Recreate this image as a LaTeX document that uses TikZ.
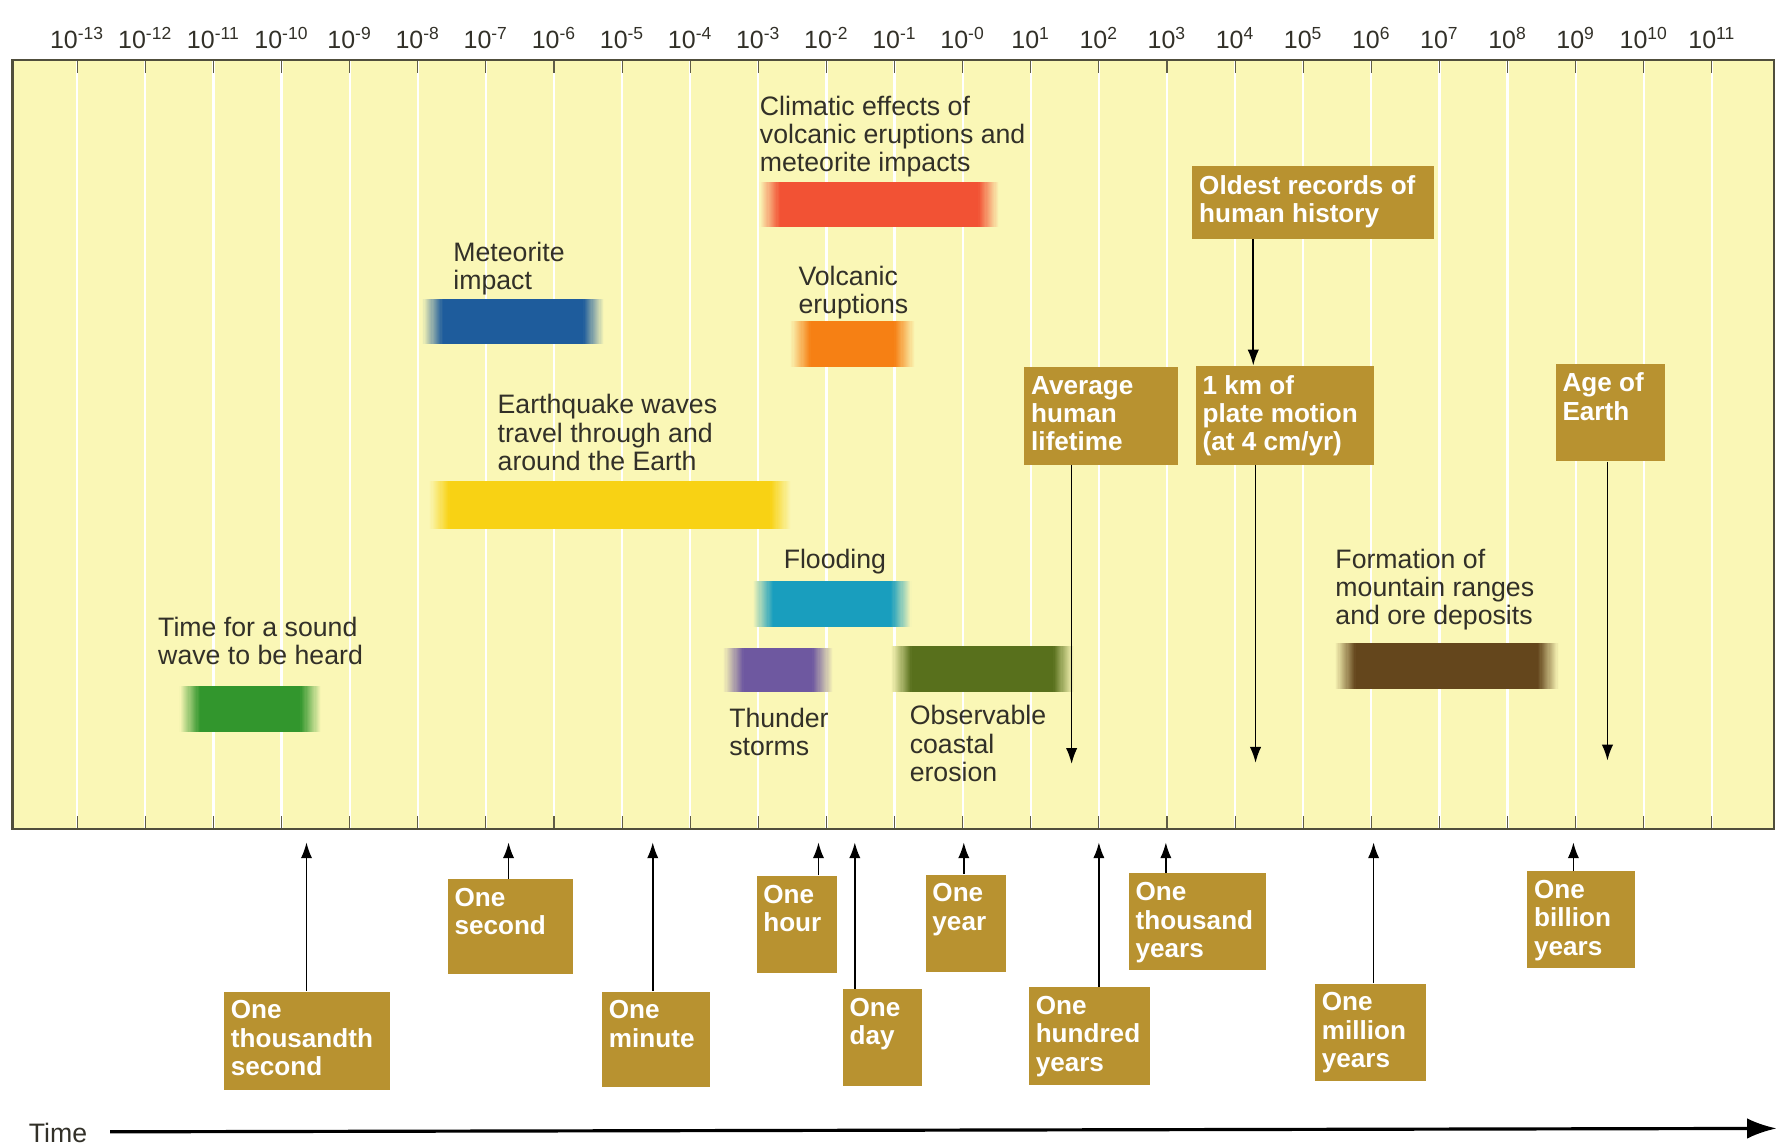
\documentclass[tikz,border=0pt]{standalone}
\usepackage{fontspec}
\setmainfont{Liberation Sans}
\usetikzlibrary{arrows.meta}
\definecolor{paneY}{RGB}{250,247,182}
\definecolor{gold}{RGB}{184,146,48}
\definecolor{txt}{RGB}{50,48,40}
\definecolor{border}{RGB}{80,78,60}
\definecolor{tickc}{RGB}{95,92,72}
\definecolor{cred}{RGB}{242,82,52}
\definecolor{cblue}{RGB}{30,92,156}
\definecolor{corange}{RGB}{246,128,20}
\definecolor{cyellow}{RGB}{248,210,20}
\definecolor{cteal}{RGB}{25,158,190}
\definecolor{cpurple}{RGB}{110,88,160}
\definecolor{colive}{RGB}{88,112,28}
\definecolor{cgreen}{RGB}{50,150,45}
\definecolor{cbrown}{RGB}{100,70,28}
\newdimen\pxu \pxu=0.5pt
\tikzset{
  lbl/.style={anchor=north west, inner sep=0pt, align=left, text=txt, font=\fontsize{11.75}{12.5}\selectfont},
  goldbox/.style={fill=gold, anchor=north west, inner xsep=3pt, inner ysep=4pt, text=white, font=\bfseries\fontsize{11.5}{12.5}\selectfont},
  arr/.style={draw=black, line width=0.75pt, -{Latex[length=7pt,width=5pt]}},
  ticklbl/.style={anchor=base, inner sep=0pt, text=txt, font=\fontsize{11}{13}\selectfont},
}
% bar with soft left and right ends: x1,y1,x2,y2,colour
\newcommand\fbar[5]{%
  \fill[#5] ({#1+17},#2) rectangle ({#3-17},#4);
  \foreach \i in {0,...,17} {
    \pgfmathtruncatemacro\pc{(\i+0.5)*100/18}
    \fill[#5!\pc!paneY] ({#1+\i},#2) rectangle ({#1+\i+1.3},#4);
    \fill[#5!\pc!paneY] ({#3-\i},#2) rectangle ({#3-\i-1.3},#4);
  }
}
\newcommand\gbox[6]{\node[goldbox] (#1) at (#2,#3) {\parbox[t][\dimexpr#5\pxu-8pt\relax][t]{\dimexpr#4\pxu-6pt\relax}{\raggedright #6}};}
\begin{document}
\begin{tikzpicture}[x=0.5pt,y=-0.5pt]
\useasboundingbox (0,0) rectangle (1568,1009);
\fill[white] (0,0) rectangle (1568,1009);
% panel
\fill[paneY] (11,53) rectangle (1563,730);
\foreach \k in {0,...,24} {
  \draw[white, line width=1pt] ({68+60*\k},54) -- ({68+60*\k},729);
  \draw[tickc, line width=0.5pt] ({68+60*\k},54) -- ({68+60*\k},64);
  \draw[tickc, line width=0.5pt] ({68+60*\k},719) -- ({68+60*\k},729);
}
\draw[border, line width=1pt] (11,53) rectangle (1563,730);
% tick labels
\foreach \e [count=\i from 0] in {-13,-12,-11,-10,-9,-8,-7,-6,-5,-4,-3,-2,-1,-0,1,2,3,4,5,6,7,8,9,10,11} {
  \node[ticklbl] (t\i) at ({68+60*\i},43) {10\textsuperscript{\e}};
}
% bars
\fbar{669}{160}{880}{200}{cred}
\fbar{372}{263}{532}{303}{cblue}
\fbar{696}{283}{806}{323}{corange}
\fbar{378}{424}{697}{466}{cyellow}
\fbar{663}{512}{803}{552}{cteal}
\fbar{637}{571}{734}{610}{cpurple}
\fbar{785}{569}{946}{610}{colive}
\fbar{158}{604}{283}{645}{cgreen}
\fbar{1176}{566}{1373}{607}{cbrown}
% labels
\node[lbl] (climatic) at (669,84) {Climatic effects of\\volcanic eruptions and\\meteorite impacts};
\node[lbl] (meteor) at (399,213) {Meteorite\\impact};
\node[lbl] (volcanic) at (703,234) {Volcanic\\eruptions};
\node[lbl] (quake) at (438,347) {Earthquake waves\\travel through and\\around the Earth};
\node[lbl] (flood) at (690,483) {Flooding};
\node[lbl] (sound) at (139,543) {Time for a sound\\wave to be heard};
\node[lbl] (thunder) at (642,623) {Thunder\\storms};
\node[lbl] (erosion) at (801,621) {Observable\\coastal\\erosion};
\node[lbl] (mountain) at (1176,483) {Formation of\\mountain ranges\\and ore deposits};
% gold boxes in panel
\gbox{oldest}{1050}{146}{213}{64}{Oldest records of\\human history}
\gbox{avg}{902}{323}{135}{86}{Average\\human\\lifetime}
\gbox{km}{1053}{322}{157}{87}{1 km of\\plate motion\\(at 4 cm/yr)}
\gbox{age}{1370}{320}{96}{86}{Age of\\Earth}
% panel arrows
\coordinate (pD) at (1104,0);
\draw[arr] (pD |- oldest.south) -- (pD |- km.north);
\coordinate (pA) at (944,673);
\draw[arr] (pA |- avg.south) -- (pA);
\coordinate (pB) at (1106,672);
\draw[arr] (pB |- km.south) -- (pB);
\coordinate (pC) at (1416,670);
\draw[arr] (pC |- age.south) -- (pC);
% bottom boxes
\gbox{thou}{197}{873}{146}{87}{One\\thousandth\\second}
\gbox{sec}{394}{774}{110}{84}{One\\second}
\gbox{min}{530}{873}{95}{84}{One\\minute}
\gbox{hour}{666}{771}{71}{86}{One\\hour}
\gbox{day}{742}{871}{70}{85}{One\\day}
\gbox{year}{815}{770}{71}{86}{One\\year}
\gbox{hund}{906}{869}{107}{86}{One\\hundred\\years}
\gbox{thsd}{994}{769}{121}{85}{One\\thousand\\years}
\gbox{mill}{1158}{866}{98}{86}{One\\million\\years}
\gbox{bill}{1345}{767}{95}{85}{One\\billion\\years}
% bottom arrows
\coordinate (q1) at (270,742);  \draw[arr] (q1 |- thou.north) -- (q1);
\coordinate (q2) at (448,742);  \draw[arr] (q2 |- sec.north) -- (q2);
\coordinate (q3) at (575,742);  \draw[arr] (q3 |- min.north) -- (q3);
\coordinate (q4) at (721,742);  \draw[arr] (q4 |- hour.north) -- (q4);
\coordinate (q5) at (753,742);  \draw[arr] (q5 |- day.north) -- (q5);
\coordinate (q6) at (849,742);  \draw[arr] (q6 |- year.north) -- (q6);
\coordinate (q7) at (968,742);  \draw[arr] (q7 |- hund.north) -- (q7);
\coordinate (q8) at (1027,742); \draw[arr] (q8 |- thsd.north) -- (q8);
\coordinate (q9) at (1210,742); \draw[arr] (q9 |- mill.north) -- (q9);
\coordinate (q10) at (1386,742); \draw[arr] (q10 |- bill.north) -- (q10);
% time axis
\node[lbl, anchor=base west] (time) at (25,1006) {Time};
\coordinate (ax0) at (97,997);
\coordinate (ax1) at (1565,994);
\draw[line width=1.4pt, -{Latex[length=13pt,width=9pt]}] (ax0) -- (ax1);
\end{tikzpicture}
\end{document}
